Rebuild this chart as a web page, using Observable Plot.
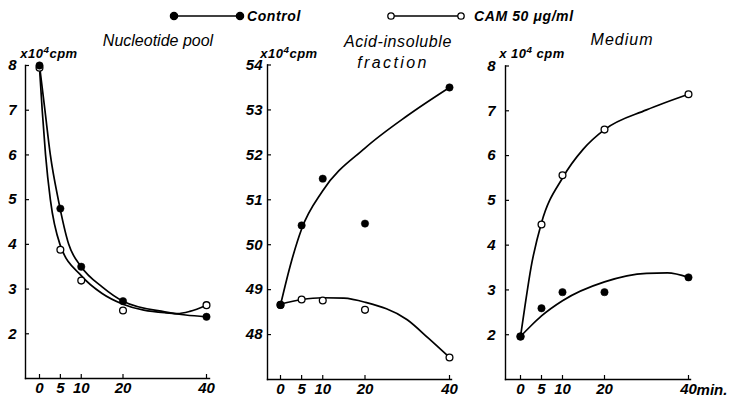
<!DOCTYPE html>
<html><head><meta charset="utf-8">
<script src="https://cdn.jsdelivr.net/npm/d3@7"></script>
<script src="https://cdn.jsdelivr.net/npm/@observablehq/plot@0.6"></script>
<style>
body{margin:0;background:#fff;}
#chart{position:relative;width:730px;height:397px;overflow:hidden;font-family:"Liberation Sans",Arial,sans-serif;color:#000;}
#chart svg{position:absolute;left:0;top:0;}
.lbl{position:absolute;font-style:italic;white-space:nowrap;transform:translate(-50%,-50%);line-height:1;}
.lbl sup{font-size:0.75em;vertical-align:0.5em;line-height:0;}
</style></head><body><div id="chart"></div>
<script>
// ---- data ----
const times = [0, 5, 10, 20, 40];
const xTicks = [0, 5, 10, 20, 40];

// Nucleotide pool (x10^4 cpm)
const poolControl = [8.0, 4.8, 3.5, 2.73, 2.38];
const poolCAM = [7.95, 3.88, 3.19, 2.52, 2.64];
const poolControlFitT = [0, 1.3, 2.6, 4.5, 7, 10, 15, 20, 30, 35, 40];
const poolControlFit = [8.0, 7.0, 6.0, 5.0, 4.0, 3.5, 3.05, 2.73, 2.49, 2.42, 2.38];
const poolCAMFitT = [0, 0.65, 1.45, 2.6, 4.9, 10, 15, 20, 30, 33, 36, 40];
const poolCAMFit = [7.95, 7.0, 6.0, 5.0, 4.0, 3.3, 2.9, 2.66, 2.47, 2.45, 2.5, 2.64];

// Acid-insoluble fraction (x10^4 cpm)
const acidControl = [48.66, 50.43, 51.47, 50.47, 53.5];
const acidCAM = [48.66, 48.78, 48.76, 48.55, 47.49];
const acidControlFitT = [0, 2.5, 5, 10, 20, 30, 40];
const acidControlFit = [48.66, 49.6, 50.35, 51.2, 52.15, 52.87, 53.5];
const acidCAMFitT = [0, 5, 10, 15, 20, 30, 35, 40];
const acidCAMFit = [48.68, 48.78, 48.82, 48.81, 48.72, 48.33, 47.92, 47.49];

// Medium (x10^4 cpm)
const medControl = [1.96, 2.59, 2.95, 2.95, 3.28];
const medCAM = [1.96, 4.46, 5.56, 6.58, 7.37];
const medControlFitT = [0, 2.5, 5, 10, 20, 30, 35, 40];
const medControlFit = [1.96, 2.2, 2.42, 2.76, 3.18, 3.37, 3.38, 3.28];
const medCAMFitT = [0, 1, 2.5, 5, 10, 15, 20, 30, 40];
const medCAMFit = [1.96, 2.6, 3.5, 4.5, 5.5, 6.15, 6.58, 7.02, 7.37];

const yTicksSmall = [2, 3, 4, 5, 6, 7, 8];
const yTicksAcid = [48, 49, 50, 51, 52, 53, 54];

const seriesNames = ["Control", "CAM 50 μg/ml"];
const panelTitles = ["Nucleotide pool", "Acid-insoluble", "Medium"];

// ---- drawing ----
const W = 730, H = 397;
const chart = document.getElementById("chart");
const zip = (t, v) => t.map((d, i) => ({t: d, v: v[i]}));
const FONT = "'Liberation Sans', Arial, sans-serif";

function panel(p) {
  return Plot.plot({
    width: W, height: H,
    marginLeft: p.left, marginRight: W - p.right, marginTop: p.top, marginBottom: H - p.bottom,
    x: {domain: [0, 40], insetLeft: p.insetL, insetRight: p.insetR},
    y: {domain: p.yDomain},
    style: {background: "transparent", overflow: "visible", fontFamily: FONT, color: "#000",
            fontSize: "15px", fontWeight: "bold", fontStyle: "italic"},
    marks: [
      Plot.frame({anchor: "left", strokeWidth: 1.4}),
      Plot.frame({anchor: "bottom", strokeWidth: 1.4}),
      Plot.axisY({ticks: p.yTicks, tickSize: -4, tickPadding: p.yPad, label: null, tickFormat: d => String(d), strokeWidth: 1.2}),
      Plot.axisX({ticks: xTicks, tickSize: -4, tickPadding: 8, label: null, tickFormat: d => String(d), strokeWidth: 1.2}),
      Plot.line(zip(p.ctlFitT, p.ctlFit), {x: "t", y: "v", curve: "monotone-x", stroke: "#000", strokeWidth: 1.7}),
      Plot.line(zip(p.camFitT, p.camFit), {x: "t", y: "v", curve: "monotone-x", stroke: "#000", strokeWidth: 1.7}),
      Plot.dot(zip(times, p.cam), {x: "t", y: "v", r: 3.4, fill: "#fff", stroke: "#000", strokeWidth: 1.3}),
      Plot.dot(zip(times, p.ctl), {x: "t", y: "v", r: 3.7, fill: "#000", stroke: "#000", strokeWidth: 0.5})
    ]
  });
}

const panels = [
  {left: 25, right: 209, top: 65, bottom: 378, insetL: 14, insetR: 3, yDomain: [1, 8], yTicks: yTicksSmall, yPad: 13,
   ctl: poolControl, cam: poolCAM, ctlFitT: poolControlFitT, ctlFit: poolControlFit, camFitT: poolCAMFitT, camFit: poolCAMFit},
  {left: 267, right: 451, top: 64.5, bottom: 379, insetL: 13, insetR: 2, yDomain: [47, 54], yTicks: yTicksAcid, yPad: 9,
   ctl: acidControl, cam: acidCAM, ctlFitT: acidControlFitT, ctlFit: acidControlFit, camFitT: acidCAMFitT, camFit: acidCAMFit},
  {left: 505, right: 690, top: 65.5, bottom: 379, insetL: 15, insetR: 2, yDomain: [1, 8], yTicks: yTicksSmall, yPad: 14,
   ctl: medControl, cam: medCAM, ctlFitT: medControlFitT, ctlFit: medControlFit, camFitT: medCAMFitT, camFit: medCAMFit}
];
panels.forEach(p => chart.appendChild(panel(p)));

// legend
const leg = d3.select(chart).append("svg").attr("width", W).attr("height", 32).style("overflow", "visible");
const legItems = [
  {x1: 174, x2: 240, fill: "#000", r: 3.6, name: seriesNames[0], tx: 247},
  {x1: 391, x2: 461, fill: "#fff", r: 3.2, name: seriesNames[1], tx: 474}
];
legItems.forEach(it => {
  leg.append("line").attr("x1", it.x1).attr("x2", it.x2).attr("y1", 16).attr("y2", 16).attr("stroke", "#000").attr("stroke-width", 1.5);
  [it.x1, it.x2].forEach(cx => leg.append("circle").attr("cx", cx).attr("cy", 16).attr("r", it.r)
    .attr("fill", it.fill).attr("stroke", "#000").attr("stroke-width", 1.3));
  leg.append("text").attr("x", it.tx).attr("y", 16).attr("dy", "0.35em")
    .attr("font-family", FONT).attr("font-size", 14).attr("letter-spacing", "0.6px")
    .attr("font-style", "italic").attr("font-weight", "bold").text(it.name);
});

// titles and unit labels
function label(html, cx, cy, style) {
  const d = document.createElement("div");
  d.className = "lbl";
  d.innerHTML = html;
  d.style.left = cx + "px";
  d.style.top = cy + "px";
  Object.assign(d.style, style || {});
  chart.appendChild(d);
}
const titleStyle = {fontSize: "16px"};
label(panelTitles[0], 158, 41, titleStyle);
label(panelTitles[1], 398, 42, Object.assign({letterSpacing: "0.6px"}, titleStyle));
label("fraction", 393, 63, Object.assign({letterSpacing: "2.4px"}, titleStyle));
label(panelTitles[2], 622, 40, Object.assign({letterSpacing: "1px"}, titleStyle));
const unitStyle = {fontSize: "13px", fontWeight: "bold", letterSpacing: "0.5px"};
label("x10<sup>4</sup>cpm", 49, 53, unitStyle);
label("x10<sup>4</sup>cpm", 289, 53, unitStyle);
label("x 10<sup>4</sup> cpm", 532, 53, unitStyle);
label("min.", 712, 389, {fontSize: "15px", fontWeight: "bold"});
</script></body></html>
